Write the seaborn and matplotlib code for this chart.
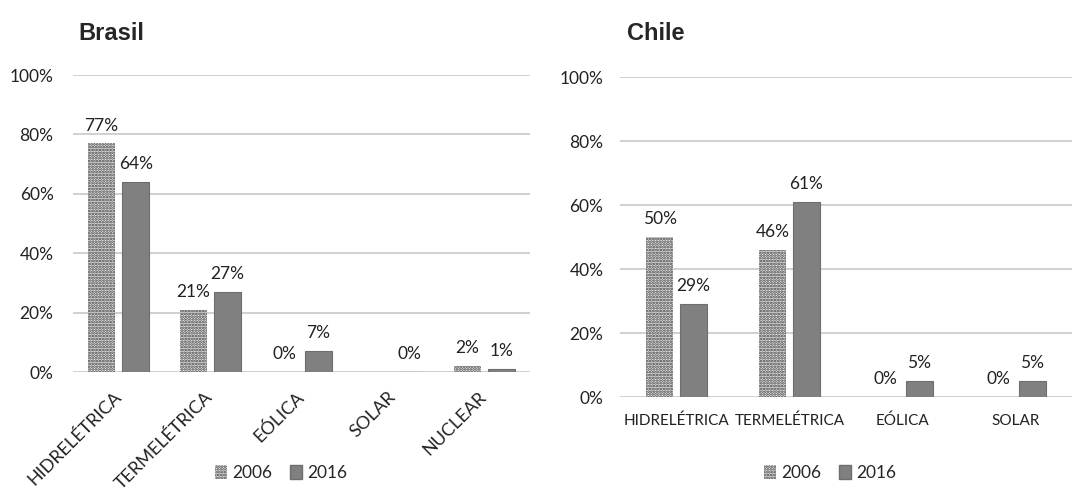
import matplotlib
matplotlib.use("Agg")
import matplotlib.pyplot as plt
import matplotlib.patches as mpatches
import seaborn as sns
import pandas as pd

# data
anos = ["2006", "2016"]
fontes_br = ["HIDRELÉTRICA", "TERMELÉTRICA", "EÓLICA", "SOLAR", "NUCLEAR"]
br_2006 = [77, 21, 0, 0, 2]
br_2016 = [64, 27, 7, 0, 1]
fontes_cl = ["HIDRELÉTRICA", "TERMELÉTRICA", "EÓLICA", "SOLAR"]
cl_2006 = [50, 46, 0, 0]
cl_2016 = [29, 61, 5, 5]
yticks = [0, 20, 40, 60, 80, 100]

sns.set_theme(style="white")
plt.rcParams["font.family"] = ["Lato", "DejaVu Sans"]
plt.rcParams["hatch.linewidth"] = 1.3

GRAY = "#808080"
DOT = "#3c3c3c"
TXT = "#222222"


def long_df(fontes, v06, v16):
    return pd.DataFrame({
        "fonte": fontes * 2,
        "ano": ["2006"] * len(fontes) + ["2016"] * len(fontes),
        "valor": v06 + v16,
    })


def draw(ax, fontes, v06, v16, width, gap, skip=()):
    df = long_df(fontes, v06, v16)
    sns.barplot(data=df, x="fonte", y="valor", hue="ano", hue_order=anos,
                palette=["white", GRAY], width=width, gap=gap, ax=ax,
                legend=False, errorbar=None, saturation=1)
    c06, c16 = ax.containers[0], ax.containers[1]
    for p in c06:
        p.set_facecolor("#e8e8e8")
        p.set_edgecolor(DOT)
        p.set_hatch("......")
        p.set_linewidth(0)
    for p in c16:
        p.set_facecolor(GRAY)
        p.set_edgecolor("#6e6e6e")
        p.set_linewidth(0.8)
    for k, (cont, vals) in enumerate([(c06, v06), (c16, v16)]):
        for i, (p, v) in enumerate(zip(cont, vals)):
            if (k, i) in skip:
                continue
            ax.annotate(f"{v}%", (p.get_x() + p.get_width() / 2, v),
                        xytext=(0, 7), textcoords="offset points",
                        ha="center", va="bottom", fontsize=12.5, color=TXT)
    ax.set_ylim(0, 100)
    ax.set_yticks(yticks)
    ax.set_yticklabels([f"{t}%" for t in yticks], fontsize=12.5, color=TXT)
    ax.grid(axis="y", color="#c8c8c8", linewidth=1.2)
    ax.set_axisbelow(True)
    sns.despine(ax=ax, left=True, bottom=True)
    ax.set_xlabel("")
    ax.set_ylabel("")
    ax.tick_params(length=0)


fig = plt.figure(figsize=(10.72, 4.9), dpi=100)

ax1 = fig.add_axes([73 / 1072, 1 - 372 / 490, 457 / 1072, 297 / 490])
draw(ax1, fontes_br, br_2006, br_2016, 0.745, 0.21, skip={(0, 3)})
ax1.tick_params(axis="y", pad=14)
ax1.tick_params(axis="x", pad=16)
for lab in ax1.get_xticklabels():
    lab.set_rotation(45)
    lab.set_ha("right")
    lab.set_va("center")
    lab.set_rotation_mode("anchor")
    lab.set_fontsize(13)
    lab.set_color(TXT)

ax2 = fig.add_axes([620 / 1072, 1 - 397 / 490, 452 / 1072, 320 / 490])
draw(ax2, fontes_cl, cl_2006, cl_2016, 0.6, 0.23)
ax2.tick_params(axis="y", pad=12)
ax2.tick_params(axis="x", pad=12)
for lab in ax2.get_xticklabels():
    lab.set_fontsize(11)
    lab.set_color(TXT)

fig.text(78 / 1072, 1 - 33 / 490, "Brasil", fontsize=17, fontweight="bold",
         family="Liberation Sans", va="center", ha="left")
fig.text(627 / 1072, 1 - 33 / 490, "Chile", fontsize=17, fontweight="bold",
         family="Liberation Sans", va="center", ha="left")

handles = [
    mpatches.Patch(facecolor="#e8e8e8", edgecolor=DOT, hatch="......", linewidth=0, label="2006"),
    mpatches.Patch(facecolor=GRAY, edgecolor="#6e6e6e", label="2016"),
]
for cx in (281, 830):
    fig.legend(handles=handles, loc="center", bbox_to_anchor=(cx / 1072, 1 - 473 / 490),
               ncol=2, frameon=False, fontsize=12.5, handlelength=0.7, handleheight=0.8,
               handletextpad=0.3, columnspacing=1.0)

fig.savefig("out.png", dpi=100)
